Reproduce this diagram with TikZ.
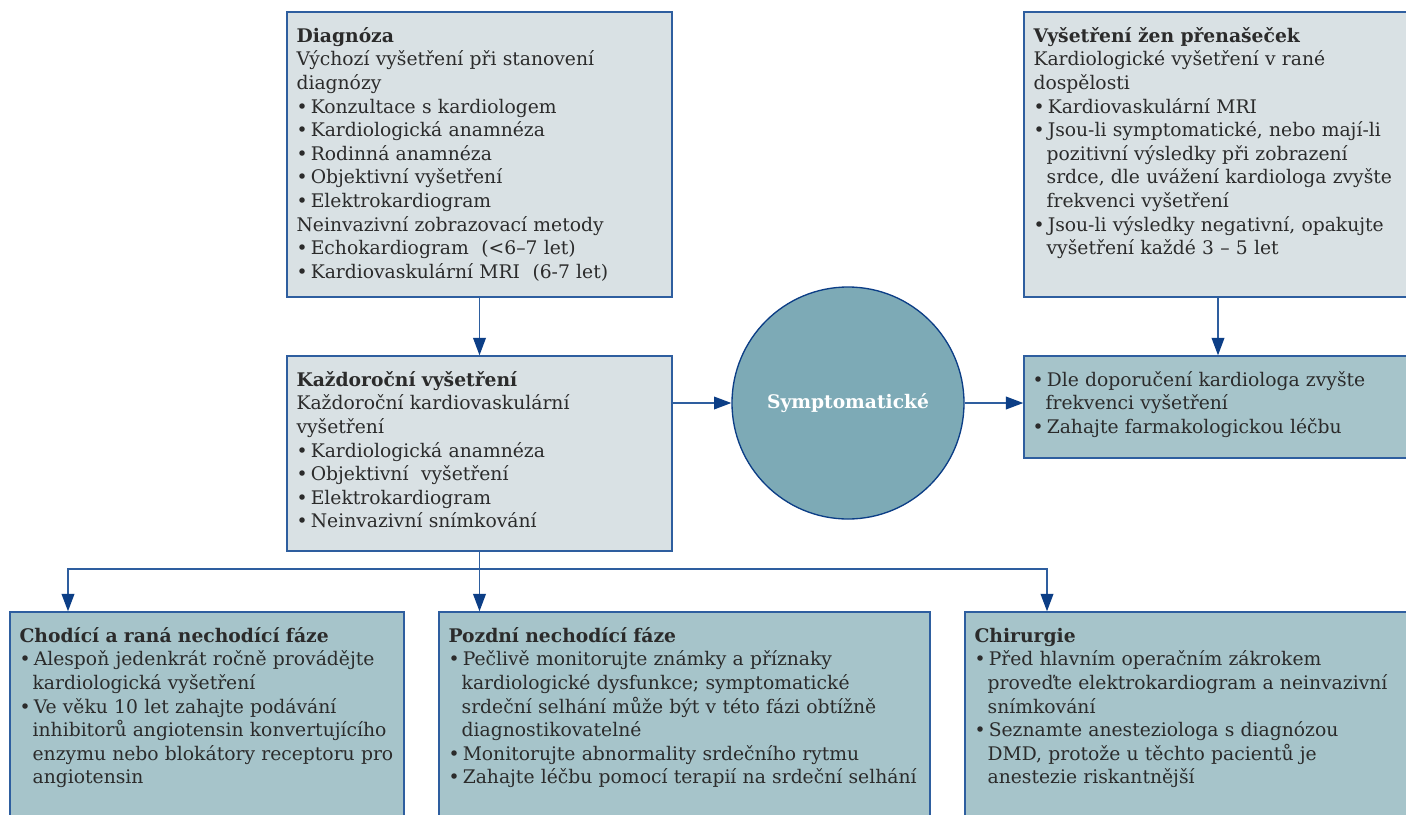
\documentclass[tikz,border=0pt]{standalone}
\usepackage{fontspec}
\setmainfont{DejaVu Serif}
\usetikzlibrary{arrows.meta,fit,calc}
\definecolor{boxgray}{HTML}{D9E1E4}
\definecolor{boxteal}{HTML}{A6C4CA}
\definecolor{circfill}{HTML}{7DAAB6}
\definecolor{edgeblue}{HTML}{2E5E9F}
\definecolor{arrowblue}{HTML}{0C3E86}
\definecolor{txtc}{HTML}{2B2B2B}
\newcommand\bl{\makebox[0.76em][l]{•}}
\newcommand\cn{\hspace*{0.7em}}
\begin{document}
\begin{tikzpicture}[x=0.75pt,y=-0.75pt,
  boxbase/.style={draw=edgeblue, line width=1.1pt, inner sep=0pt, rectangle},
  graybox/.style={boxbase, fill=boxgray},
  tealbox/.style={boxbase, fill=boxteal},
  txtblock/.style={anchor=base west, inner sep=0pt, text width=520pt, align=left, text=txtc, font=\fontsize{14.05}{17.7}\selectfont},
  conn/.style={draw=edgeblue, line width=1.1pt},
  arr/.style={conn, -{Triangle[length=13pt,width=9.5pt,color=arrowblue]}}
]
\useasboundingbox (0,0) rectangle (1406,814);
\clip (0,0) rectangle (1406,814);
\fill[white] (0,0) rectangle (1406,814);

% boxes
\node[graybox, fit={(287,12)(672,297)}] (diag) {};
\node[graybox, fit={(287,356)(672,551)}] (annual) {};
\node[graybox, fit={(1024,12)(1412,297)}] (carrier) {};
\node[tealbox, fit={(1024,356)(1412,458)}] (sbox) {};
\node[tealbox, fit={(10,612)(404,820)}] (amb) {};
\node[tealbox, fit={(439,612)(930,820)}] (late) {};
\node[tealbox, fit={(965,612)(1412,820)}] (surg) {};
\node[circle, draw=arrowblue, line width=1pt, fill=circfill, minimum size=174pt, inner sep=0pt, text=white, font=\fontsize{14}{17}\selectfont\bfseries] (circ) at (848,403) {Symptomatické};

% texts
\node[txtblock] (tdiag) at ($(diag.north west)+(10,31)$) {\textbf{Diagnóza}\\
Výchozí vyšetření při stanovení\\
diagnózy\\
\bl Konzultace s kardiologem\\
\bl Kardiologická anamnéza\\
\bl Rodinná anamnéza\\
\bl Objektivní vyšetření\\
\bl Elektrokardiogram\\
Neinvazivní zobrazovací metody\\
\bl Echokardiogram\ \ (<6–7 let)\\
\bl Kardiovaskulární MRI\ \ (6-7 let)};

\node[txtblock] (tannual) at ($(annual.north west)+(10,31)$) {\textbf{Každoroční vyšetření}\\
Každoroční kardiovaskulární\\
vyšetření\\
\bl Kardiologická anamnéza\\
\bl Objektivní\ \ vyšetření\\
\bl Elektrokardiogram\\
\bl Neinvazivní snímkování};

\node[txtblock] (tcarrier) at ($(carrier.north west)+(10,31)$) {\textbf{Vyšetření žen přenašeček}\\
Kardiologické vyšetření v rané\\
dospělosti\\
\bl Kardiovaskulární MRI\\
\bl Jsou-li symptomatické, nebo mají-li\\
\cn pozitivní výsledky při zobrazení\\
\cn srdce, dle uvážení kardiologa zvyšte\\
\cn frekvenci vyšetření\\
\bl Jsou-li výsledky negativní, opakujte\\
\cn vyšetření každé 3 – 5 let};

\node[txtblock] (tsbox) at ($(sbox.north west)+(9,31)$) {\bl Dle doporučení kardiologa zvyšte\\
\cn frekvenci vyšetření\\
\bl Zahajte farmakologickou léčbu};

\node[txtblock] (tamb) at ($(amb.north west)+(10,31)$) {\textbf{Chodící a raná nechodící fáze}\\
\bl Alespoň jedenkrát ročně provádějte\\
\cn kardiologická vyšetření\\
\bl Ve věku 10 let zahajte podávání\\
\cn inhibitorů angiotensin konvertujícího\\
\cn enzymu nebo blokátory receptoru pro\\
\cn angiotensin};

\node[txtblock] (tlate) at ($(late.north west)+(10,31)$) {\textbf{Pozdní nechodící fáze}\\
\bl Pečlivě monitorujte známky a příznaky\\
\cn kardiologické dysfunkce; symptomatické\\
\cn srdeční selhání může být v této fázi obtížně\\
\cn diagnostikovatelné\\
\bl Monitorujte abnormality srdečního rytmu\\
\bl Zahajte léčbu pomocí terapií na srdeční selhání};

\node[txtblock] (tsurg) at ($(surg.north west)+(10,31)$) {\textbf{Chirurgie}\\
\bl Před hlavním operačním zákrokem\\
\cn proveďte elektrokardiogram a neinvazivní\\
\cn snímkování\\
\bl Seznamte anesteziologa s diagnózou\\
\cn DMD, protože u těchto pacientů je\\
\cn anestezie riskantnější};

% connectors
\draw[arr] (diag.south) -- (annual.north);
\draw[arr] (circ.west -| annual.east) -- (circ.west);
\draw[arr] (circ.east) -- (circ.east -| sbox.west);
\draw[arr] (carrier.south) -- (sbox.north);
\coordinate (jL) at (68,569);
\coordinate (jR) at (1047,569);
\coordinate (jM) at (annual.south |- jL);
\draw[arr] (annual.south) -- (late.north -| annual.south);
\draw[arr] (jM) -- (jL) -- (jL |- amb.north);
\draw[arr] (jM) -- (jR) -- (jR |- surg.north);
\end{tikzpicture}
\end{document}
